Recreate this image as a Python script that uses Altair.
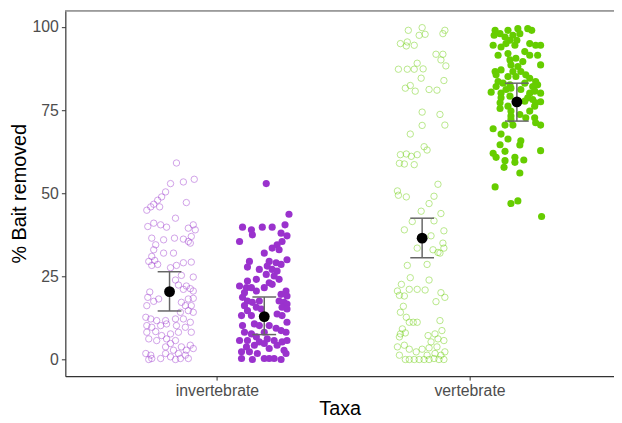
import altair as alt
import pandas as pd

# ---------------- data ----------------
taxa = ["invertebrate", "vertebrate"]
treatments = ["open", "filled"]
colors = ["#9A32CD", "#66CD00"]

# jitter offsets (px-like units, converted below) and % bait removed
inv_open_jit = [7, 1, 14, 25, -4, -8, -12, -16, -19, -23, -10, 17, 6, -22, -16, -9, -3, 19, 24, 26,
                -18, -6, 5, 14, 19, 22, 21, -14, -16, -6, 4, -18, -21, -15, -12, -18, 1, 7, 14, 22,
                12, 24, 6, 9, 17, 21, 24, 14, -20, -22, -11, -16, -23, 19, 24, 12, 16, 22, 19, 11,
                24, -24, -19, -13, -4, 6, 14, 21, -23, -18, -9, -3, 7, 16, -23, -14, -8, 1, 9, 22,
                -21, -13, -3, 1, 6, -4, 4, 12, 17, 24, 21, -24, -19, -18, -21, 1, 6, 11, 16, 19,
                -4, -9, 9]
inv_open_val = [59.1, 52.9, 53.4, 54.2, 50.4, 48.9, 47.9, 46.7, 45.9, 44.9, 45.9, 47.2, 42.5, 40.0, 41.0, 40.5, 39.8, 39.5, 40.5, 39.0,
                36.5, 36.0, 36.5, 36.2, 35.5, 37.0, 35.0, 34.5, 33.0, 32.0, 32.0, 31.0, 29.5, 29.8, 28.6, 28.3, 27.6, 28.3, 29.1, 29.3,
                25.3, 24.8, 23.9, 22.4, 22.1, 21.3, 20.6, 21.1, 20.3, 18.7, 18.2, 17.5, 16.2, 18.2, 18.4, 17.2, 16.2, 16.2, 14.7, 14.2,
                14.2, 12.7, 12.2, 11.7, 11.7, 12.2, 12.2, 11.2, 10.2, 9.7, 10.2, 10.7, 10.2, 9.7, 8.2, 8.4, 7.2, 7.7, 8.2, 8.2,
                6.2, 5.7, 6.2, 4.8, 5.7, 3.8, 2.8, 3.8, 2.8, 3.3, 4.3, 1.8, 1.3, 0.3, 0.0, 0.8, 0.0, 0.3, 1.3, 0.3,
                1.8, 0.3, 1.8]

inv_fill_jit = [2, 25, 21, -22, -13, -2, 8, 17, 23, -12, -25, 18, 13, 8, 15, 0,
                -15, -17, 5, 12, 23, 17, 3, 8, 13, 2, 10, -5, -17, -8, 15, 5, -25, -18, -13, 0, 8, -8, -20, 22, 17, 23,
                -22, -17, -12, -5, 15, 20, 23, -20, -8, 18, -17, -3, 23, -23, -13, 13, 18, -22, -10, -5, 5, 12, 23, 17, -20, -13, 22, 0,
                -25, -17, -8, -5, 3, 10, 18, 23, -18, -10, 0, 13, 20, -23, -15, 5, -7, -23, -12, 0, 5, 10, 17, 22]
inv_fill_val = [52.9, 43.7, 40.5, 39.8, 39.0, 39.8, 39.8, 38.0, 37.2, 37.5, 35.5, 35.5, 34.5, 33.5, 33.0, 32.0,
                29.5, 27.8, 29.5, 29.1, 30.0, 28.6, 28.1, 27.1, 26.6, 25.6, 25.1, 27.1, 23.6, 24.1, 24.1, 23.1, 22.1, 21.6, 21.6, 21.6, 22.6, 20.6, 20.1, 20.6, 19.6, 19.1,
                18.7, 17.6, 17.2, 17.6, 17.6, 17.2, 16.7, 16.2, 15.7, 15.7, 14.7, 15.2, 15.2, 13.2, 13.2, 13.7, 13.2, 10.2, 10.7, 10.2, 10.2, 9.4, 11.2, 8.7, 8.2, 7.7, 8.2, 8.2,
                5.7, 5.7, 6.8, 5.3, 6.2, 5.7, 5.3, 5.7, 3.8, 4.3, 4.8, 4.3, 2.8, 2.3, 2.3, 3.3, 1.8, 0.3, 0.0, 0.3, 0.3, 0.3, 0.0, 1.8]

vert_open_jit = [-14, 0, 23, -3, 3, 21, -22, -15, -16, -8,
                 14, 21, 19, -5, 24, -24, -15, -8, 1, -1, 22, -17, -12, -7, 7, 15,
                 0, 18, 0, 23, -12, 2, 5, -22, -16, -11, -5, -23, -18, -8,
                 16, -25, -24, -16, 12, 7, -1, 19, -10, 12, -18, 22, 9, -5, 21, 11, 18, 22, 16, -15, 5,
                 -12, 7, -21, -13, -5, 3, -25, -23, -18, 19, 23, 14,
                 -19, -22, -16, -13, -9, -5, 18, -20, -22, -17, -23, 6, 13, 20, 16, 22, 9,
                 -25, -18, -13, -6, 0, 7, 15, 23, -23, -17, -13, -8, -3, 2, 7, 12, 17, 22, 19, 13, 5]
vert_open_val = [99.0, 99.8, 99.0, 97.5, 97.8, 98.0, 95.0, 95.5, 94.3, 94.5,
                 91.8, 91.8, 90.1, 89.1, 88.3, 87.3, 87.3, 87.3, 87.4, 84.6, 83.9, 81.6, 82.4, 80.7, 81.2, 81.0,
                 74.4, 73.7, 70.4, 70.5, 67.8, 64.0, 63.0, 61.6, 61.8, 61.1, 61.6, 59.0, 58.8, 58.6,
                 52.7, 50.7, 49.4, 48.9, 49.1, 46.9, 44.6, 43.9, 41.5, 41.7, 39.0, 38.7, 37.2, 33.5, 35.0, 33.0, 32.0, 33.5, 32.2, 28.3, 28.6,
                 24.6, 23.9, 22.6, 21.1, 21.1, 20.9, 20.6, 19.3, 19.1, 20.1, 18.7, 17.4,
                 16.0, 14.2, 12.7, 11.2, 11.2, 11.2, 11.7, 9.2, 7.7, 8.0, 6.8, 7.2, 7.7, 8.7, 6.2, 5.7, 5.3,
                 3.8, 4.3, 3.1, 2.3, 3.1, 3.5, 3.8, 2.3, 1.3, 0.0, 0.0, 0.0, 0.0, 0.0, 0.0, 0.3, 0.0, 0.0, 1.3, 1.8, 1.3]

vert_fill_jit = [-22, -17, -9, 1, 11, 15, -23, -12, -4, 3, -7, 0, -24, -16, -11, -2, 13, 19, 24,
                 -19, -9, 8, 13, 21, -7, -1, 6, 24, -6, 1, -22, -16, -4, 4, -21, -9, -1, 9, 13,
                 -19, -14, -7, 8, 19, -21, -6, 4, 16, 21, -26, -16, -11, 13, 18, 24, -16, -7, 11, 16,
                 -17, 8, 19, 24, -17, -9, -6, 18, 13, -6, 3, 9, 18, -6, 19, 24, -12, -4, -24,
                 -16, -9, 4, 3, -17, -24, -21, -12, -12, -2, -2, 7, 24, -13, 3, -22, -6, 1, 25]
vert_fill_val = [99.0, 98.0, 99.0, 99.5, 99.5, 99.0, 97.5, 97.0, 97.5, 98.0, 96.0, 96.0, 94.5, 94.0, 95.0, 94.5, 95.0, 94.5, 94.5,
                 91.5, 92.0, 92.6, 91.5, 91.5, 90.1, 90.6, 89.6, 88.6, 88.6, 88.1, 86.6, 87.1, 86.6, 86.6, 85.6, 85.1, 85.1, 85.6, 84.6,
                 83.6, 83.1, 82.6, 83.1, 83.6, 82.1, 81.6, 81.2, 82.1, 82.6, 80.4, 80.1, 81.2, 80.1, 80.7, 80.1, 78.7, 79.2, 78.7, 78.2,
                 77.2, 77.7, 77.2, 77.5, 75.5, 76.2, 74.7, 76.2, 74.7, 73.2, 73.7, 72.7, 72.7, 72.2, 71.2, 70.5, 70.5, 70.5, 69.4,
                 67.8, 66.3, 65.8, 64.5, 64.6, 62.0, 60.8, 62.6, 59.8, 60.8, 59.3, 60.0, 62.8, 57.8, 56.1, 51.9, 46.9, 47.7, 43.0]

# group means with error bars
sum_taxa = ["invertebrate", "invertebrate", "vertebrate", "vertebrate"]
sum_treat = ["open", "filled", "open", "filled"]
means = [20.4, 12.9, 36.5, 77.5]
lower = [14.6, 7.5, 30.6, 71.7]
upper = [26.4, 18.8, 42.5, 83.1]

# ---------------- tables ----------------
PX_PER_UNIT = 255.5
DODGE = 0.1875
CAP = 0.047
pos = {"invertebrate": 1, "vertebrate": 2}
dodge = {"open": -DODGE, "filled": DODGE}

rows = []
for t, tr, jit, val in [("invertebrate", "open", inv_open_jit, inv_open_val),
                        ("invertebrate", "filled", inv_fill_jit, inv_fill_val),
                        ("vertebrate", "open", vert_open_jit, vert_open_val),
                        ("vertebrate", "filled", vert_fill_jit, vert_fill_val)]:
    for j, v in zip(jit, val):
        rows.append({"taxa": t, "treat": tr,
                     "x": pos[t] + dodge[tr] + j / PX_PER_UNIT, "y": v})
pts = pd.DataFrame(rows)

summ = pd.DataFrame({"taxa": sum_taxa, "treat": sum_treat, "mean": means,
                     "lo": lower, "hi": upper})
summ["x"] = [pos[t] + dodge[tr] for t, tr in zip(sum_taxa, sum_treat)]
summ["xl"] = summ["x"] - CAP
summ["xr"] = summ["x"] + CAP

# ---------------- chart ----------------
W, H = 555, 370
xscale = alt.Scale(domain=[0.4, 2.572], nice=False, zero=False)
yscale = alt.Scale(domain=[-5, 105], nice=False, zero=False)
label_expr = "datum.value == 1 ? '%s' : '%s'" % (taxa[0], taxa[1])
xaxis = alt.Axis(values=[1, 2], labelExpr=label_expr, title="Taxa", grid=False,
                 labelPadding=3, titleY=33, titleBaseline="middle")
yaxis = alt.Axis(values=[0, 25, 50, 75, 100], title="% Bait removed", grid=False,
                 labelPadding=3, titleX=-46, titleBaseline="middle")

X = alt.X("x:Q", scale=xscale, axis=xaxis)
Y = alt.Y("y:Q", scale=yscale, axis=yaxis)
color = alt.Color("taxa:N", scale=alt.Scale(domain=taxa, range=colors), legend=None)

open_pts = alt.Chart(pts[pts.treat == "open"]).mark_point(
    shape="circle", filled=False, size=42, strokeWidth=0.9, opacity=0.5
).encode(x=X, y=Y, color=color)

fill_pts = alt.Chart(pts[pts.treat == "filled"]).mark_circle(
    size=52, opacity=1
).encode(x=X, y=Y, color=color)

base = alt.Chart(summ)
vbar = base.mark_rule(color="#666666", strokeWidth=1.5).encode(
    x=alt.X("x:Q", scale=xscale, axis=xaxis),
    y=alt.Y("lo:Q", scale=yscale, axis=yaxis), y2="hi:Q")
cap_lo = base.mark_rule(color="#666666", strokeWidth=1.5).encode(
    x=alt.X("xl:Q", scale=xscale, axis=xaxis), x2="xr:Q",
    y=alt.Y("lo:Q", scale=yscale, axis=yaxis))
cap_hi = base.mark_rule(color="#666666", strokeWidth=1.5).encode(
    x=alt.X("xl:Q", scale=xscale, axis=xaxis), x2="xr:Q",
    y=alt.Y("hi:Q", scale=yscale, axis=yaxis))
mean_pts = base.mark_circle(color="black", size=120, opacity=1).encode(
    x=alt.X("x:Q", scale=xscale, axis=xaxis),
    y=alt.Y("mean:Q", scale=yscale, axis=yaxis))

top_border = alt.Chart(summ).mark_rule(color="#9a9a9a", strokeWidth=1).encode(
    x=alt.value(0), x2=alt.value(W), y=alt.value(0.5))

chart = alt.layer(open_pts, fill_pts, vbar, cap_lo, cap_hi, mean_pts, top_border).properties(
    width=W, height=H,
    autosize=alt.AutoSizeParams(type="none"),
    padding={"left": 58, "top": 0, "right": 0, "bottom": 44},
).configure_view(stroke=None).configure_axis(
    domainColor="#333333", domainWidth=1.2, tickColor="#333333", tickSize=4,
    labelColor="#4d4d4d", labelFont="Liberation Sans", labelFontSize=16,
    titleFont="Liberation Sans", titleFontSize=20, titleColor="black",
    titleFontWeight="normal",
)

chart.save("out.html", embed_options={"renderer": "svg", "actions": False})
